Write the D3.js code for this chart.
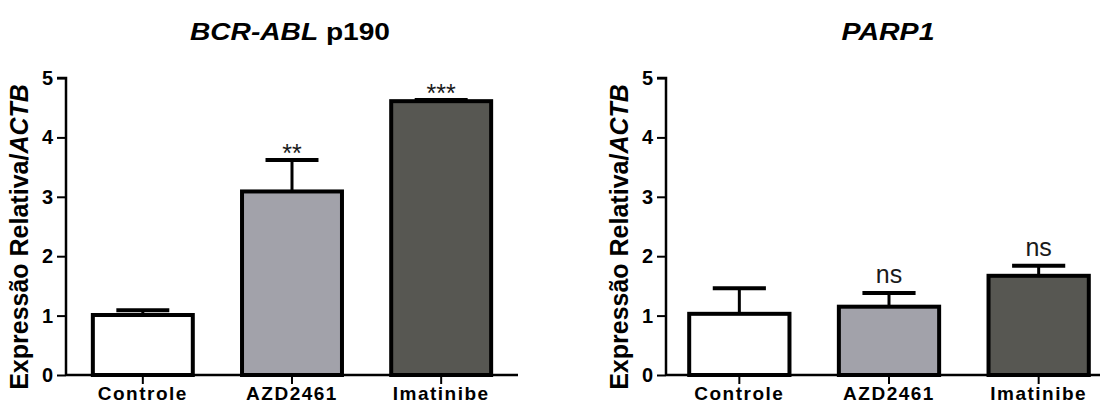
<!DOCTYPE html>
<html>
<head>
<meta charset="utf-8">
<script src="https://cdn.jsdelivr.net/npm/d3@7"></script>
<style>
  body { margin: 0; background: #fff; }
  svg { display: block; font-family: "Liberation Sans", Arial, sans-serif; }
</style>
</head>
<body>
<svg id="chart" width="1100" height="406"></svg>
<script>
// data
const categories = ['Controle', 'AZD2461', 'Imatinibe'];
const yTicks = [0, 1, 2, 3, 4, 5];

const bcrMeans = [1.01, 3.09, 4.61];
const bcrErrTop = [1.09, 3.62, 4.63];
const bcrSig = ['', '**', '***'];

const parpMeans = [1.03, 1.15, 1.67];
const parpErrTop = [1.46, 1.38, 1.84];
const parpSig = ['', 'ns', 'ns'];

const barColors = ['#ffffff', '#a2a2aa', '#575752'];

const svg = d3.select('#chart');

const panels = [
  { title: [['BCR-ABL', true], [' p190', false]], titleLen: 200, titleX: 290,
    means: bcrMeans, err: bcrErrTop, sig: bcrSig,
    axisX: 66, xEnd: 518, outer: 0.18 },
  { title: [['PARP1', true]], titleLen: 93, titleX: 888,
    means: parpMeans, err: parpErrTop, sig: parpSig,
    axisX: 666, xEnd: 1112, outer: 0.155 }
];

const y = d3.scaleLinear().domain([0, 5]).range([375, 78]);

panels.forEach(p => {
  const g = svg.append('g');

  const x = d3.scaleBand()
    .domain(categories)
    .range([p.axisX, p.xEnd])
    .paddingInner(0.33)
    .paddingOuter(p.outer);

  // title
  const t = g.append('text')
    .attr('x', p.titleX)
    .attr('y', 40)
    .attr('text-anchor', 'middle')
    .attr('font-size', 24)
    .attr('font-weight', 'bold')
    .attr('textLength', p.titleLen)
    .attr('lengthAdjust', 'spacingAndGlyphs');
  p.title.forEach(s => {
    t.append('tspan').attr('font-style', s[1] ? 'italic' : 'normal').text(s[0]);
  });

  // y axis title
  const yt = g.append('text')
    .attr('transform', `translate(${p.axisX - 38},237) rotate(-90)`)
    .attr('text-anchor', 'middle')
    .attr('font-size', 25)
    .attr('font-weight', 'bold');
  yt.append('tspan').text('Expressão Relativa/');
  yt.append('tspan').attr('font-style', 'italic').text('ACTB');

  // bars
  g.selectAll('.bar')
    .data(p.means)
    .join('rect')
    .attr('class', 'bar')
    .attr('x', (d, i) => x(categories[i]))
    .attr('y', d => y(d))
    .attr('width', x.bandwidth())
    .attr('height', d => y(0) - y(d))
    .attr('fill', (d, i) => barColors[i])
    .attr('stroke', '#000')
    .attr('stroke-width', 4);

  // error bars (upper only)
  const capW = x.bandwidth() * 0.53;
  g.selectAll('.stem')
    .data(p.err)
    .join('line')
    .attr('x1', (d, i) => x(categories[i]) + x.bandwidth() / 2)
    .attr('x2', (d, i) => x(categories[i]) + x.bandwidth() / 2)
    .attr('y1', (d, i) => y(p.means[i]))
    .attr('y2', d => y(d))
    .attr('stroke', '#000')
    .attr('stroke-width', 3);
  g.selectAll('.cap')
    .data(p.err)
    .join('line')
    .attr('x1', (d, i) => x(categories[i]) + x.bandwidth() / 2 - capW / 2)
    .attr('x2', (d, i) => x(categories[i]) + x.bandwidth() / 2 + capW / 2)
    .attr('y1', d => y(d))
    .attr('y2', d => y(d))
    .attr('stroke', '#000')
    .attr('stroke-width', 4);

  // significance marks
  g.selectAll('.sig')
    .data(p.sig)
    .join('text')
    .attr('x', (d, i) => x(categories[i]) + x.bandwidth() / 2)
    .attr('y', (d, i) => d === 'ns' ? y(p.err[i]) - 10 : y(p.err[i]) + 2)
    .attr('text-anchor', 'middle')
    .attr('font-size', 25)
    .attr('fill', '#1a1a1a')
    .text(d => d);

  // y axis
  const yAxis = d3.axisLeft(y).tickValues(yTicks).tickFormat(d3.format('d')).tickSize(9).tickPadding(4);
  const ya = g.append('g')
    .attr('transform', `translate(${p.axisX},0)`)
    .call(yAxis);
  ya.select('.domain').attr('stroke-width', 2.5).attr('d', `M-9,${y(5)}H0V${y(0)}`);
  ya.selectAll('.tick line').attr('stroke-width', 2);
  ya.selectAll('.tick text')
    .attr('font-size', 20)
    .attr('font-weight', 'bold')
    .attr('font-family', '"Liberation Sans", Arial, sans-serif')
    .attr('fill', '#000');

  // x axis
  const xAxis = d3.axisBottom(x).tickSize(9).tickSizeOuter(0).tickPadding(3);
  const xa = g.append('g')
    .attr('transform', `translate(0,${y(0)})`)
    .call(xAxis);
  xa.select('.domain').attr('stroke-width', 2.5).attr('d', `M${p.axisX},0H${p.xEnd}`);
  xa.selectAll('.tick line').attr('stroke-width', 2);
  xa.selectAll('.tick text')
    .attr('font-size', 19)
    .attr('font-weight', 'bold')
    .attr('font-family', '"Liberation Sans", Arial, sans-serif')
    .attr('fill', '#000')
    .attr('letter-spacing', 1.5);
});
</script>
</body>
</html>
